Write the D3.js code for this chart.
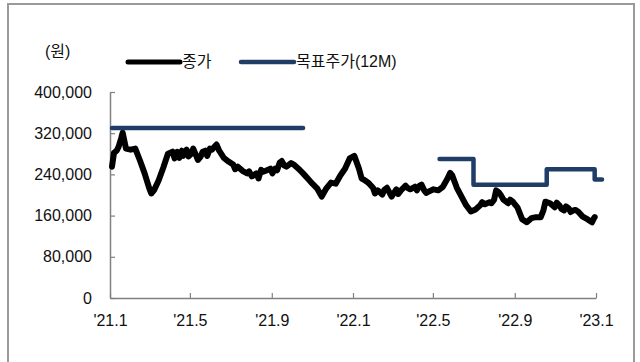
<!DOCTYPE html>
<html>
<head>
<meta charset="utf-8">
<script src="https://cdn.jsdelivr.net/npm/d3@7"></script>
<style>
  body { margin: 0; background: #fff; }
  svg text { font-family: "Liberation Sans", Arial, "Noto Sans CJK KR", sans-serif; fill: #111; }
</style>
</head>
<body>
<svg width="640" height="362"></svg>
<script>
// 종가 (one line per month)
const closeDates = [
  "2021-01-04","2021-01-07","2021-01-11","2021-01-14","2021-01-18","2021-01-20","2021-01-25",
  "2021-02-01","2021-02-08","2021-02-15","2021-02-22",
  "2021-03-01","2021-03-04","2021-03-08","2021-03-15","2021-03-22","2021-03-29",
  "2021-04-05","2021-04-08","2021-04-12","2021-04-15","2021-04-19","2021-04-21","2021-04-26","2021-04-29",
  "2021-05-03","2021-05-06","2021-05-10","2021-05-13","2021-05-17","2021-05-20","2021-05-24","2021-05-27","2021-05-31",
  "2021-06-03","2021-06-07","2021-06-10","2021-06-14","2021-06-21","2021-06-28",
  "2021-07-05","2021-07-08","2021-07-12","2021-07-19","2021-07-26","2021-07-29",
  "2021-08-02","2021-08-09","2021-08-12","2021-08-16","2021-08-19","2021-08-23","2021-08-30",
  "2021-09-02","2021-09-06","2021-09-09","2021-09-13","2021-09-16","2021-09-20","2021-09-23","2021-09-27","2021-09-30",
  "2021-10-04","2021-10-11","2021-10-18","2021-10-25",
  "2021-11-01","2021-11-08","2021-11-15","2021-11-22","2021-11-29",
  "2021-12-06","2021-12-13","2021-12-20","2021-12-27",
  "2022-01-03","2022-01-10","2022-01-14","2022-01-17","2022-01-24","2022-01-31",
  "2022-02-03","2022-02-07","2022-02-14","2022-02-17","2022-02-21","2022-02-28",
  "2022-03-07","2022-03-10","2022-03-14","2022-03-21","2022-03-24","2022-03-28",
  "2022-04-04","2022-04-07","2022-04-11","2022-04-14","2022-04-18","2022-04-21","2022-04-25",
  "2022-05-02","2022-05-09","2022-05-16","2022-05-23","2022-05-27","2022-05-30",
  "2022-06-06","2022-06-13","2022-06-20","2022-06-27",
  "2022-07-04","2022-07-11","2022-07-14","2022-07-18","2022-07-25","2022-07-28",
  "2022-08-01","2022-08-04","2022-08-08","2022-08-11","2022-08-15","2022-08-22","2022-08-25","2022-08-29",
  "2022-09-01","2022-09-05","2022-09-12","2022-09-19","2022-09-26",
  "2022-10-03","2022-10-10","2022-10-14","2022-10-17","2022-10-24","2022-10-31",
  "2022-11-03","2022-11-07","2022-11-10","2022-11-14","2022-11-17","2022-11-21","2022-11-24","2022-11-28",
  "2022-12-01","2022-12-05","2022-12-12","2022-12-19","2022-12-26","2022-12-29","2022-12-30"
];
const closeValues = [
  255000,282000,286000,294000,311000,321000,290000,
  288000,290000,267000,242000,
  213000,203000,209000,228000,253000,280000,
  284000,271000,284000,272000,286000,276000,288000,275000,
  280000,290000,278000,268000,274000,284000,286000,276000,290000,
  288000,294000,298000,286000,272000,265000,
  259000,250000,255000,247000,242000,246000,
  236000,242000,232000,249000,245000,247000,251000,
  242000,251000,248000,263000,266000,257000,255000,259000,262000,
  259000,251000,242000,232000,
  222000,213000,197000,213000,224000,
  222000,238000,251000,271000,
  276000,251000,232000,230000,224000,214000,
  203000,209000,201000,210000,214000,197000,
  211000,202000,209000,218000,214000,211000,
  216000,209000,218000,220000,209000,204000,207000,
  211000,209000,216000,232000,243000,238000,
  214000,197000,180000,168000,
  172000,180000,186000,182000,186000,184000,
  191000,209000,205000,200000,191000,184000,191000,187000,
  182000,176000,153000,147000,155000,
  157000,157000,170000,187000,184000,176000,
  185000,180000,173000,170000,178000,174000,167000,170000,
  171000,168000,158000,153000,147000,155000,157000
];

// 목표주가(12M), null = no target
const targetDates = ["2021-01-04","2021-10-18","2021-10-19","2022-05-11","2022-07-01","2022-10-19","2022-12-30","2023-01-10"];
const targetValues = [330000, 330000, null, 270000, 220000, 250000, 230000, 230000];

const xTicks = ["2021-01-01","2021-05-01","2021-09-01","2022-01-01","2022-05-01","2022-09-01","2023-01-01"];
const yTicks = [0, 80000, 160000, 240000, 320000, 400000];

const parse = d3.timeParse("%Y-%m-%d");
const svg = d3.select("svg");

// frame
svg.append("rect")
  .attr("x", 8).attr("y", 4).attr("width", 626).attr("height", 370)
  .attr("fill", "none").attr("stroke", "#9a9a9a").attr("stroke-width", 2);

const x = d3.scaleTime()
  .domain([parse("2021-01-01"), parse("2023-01-01")])
  .range([110, 596]);
const y = d3.scaleLinear()
  .domain([0, 400000])
  .range([298, 92]);

const yAxis = svg.append("g")
  .attr("transform", "translate(110,0)")
  .call(d3.axisLeft(y).tickValues(yTicks).tickFormat(d3.format(","))
    .tickSizeInner(-5).tickSizeOuter(0).tickPadding(18));
const xAxis = svg.append("g")
  .attr("transform", "translate(0,298)")
  .call(d3.axisBottom(x).tickValues(xTicks.map(parse))
    .tickFormat(d => "'" + d3.timeFormat("%y")(d) + "." + (d.getMonth() + 1))
    .tickSizeInner(-5).tickSizeOuter(0).tickPadding(17));

[yAxis, xAxis].forEach(g => {
  g.select(".domain").attr("stroke", "#808080").attr("stroke-width", 1.5);
  g.selectAll(".tick line").attr("stroke", "#808080").attr("stroke-width", 1.2);
  g.selectAll(".tick text").style("font-size", "16px").attr("fill", "#111");
});

const closeLine = d3.line()
  .x((d, i) => x(parse(closeDates[i])))
  .y(d => y(d));

svg.append("path")
  .datum(closeValues)
  .attr("d", closeLine)
  .attr("fill", "none")
  .attr("stroke", "#000")
  .attr("stroke-width", 6)
  .attr("stroke-linejoin", "round")
  .attr("stroke-linecap", "round");

const targetLine = d3.line()
  .defined(d => d != null)
  .x((d, i) => x(parse(targetDates[i])))
  .y(d => y(d))
  .curve(d3.curveStepAfter);

svg.append("path")
  .datum(targetValues)
  .attr("d", targetLine)
  .attr("fill", "none")
  .attr("stroke", "#1f3d66")
  .attr("stroke-width", 4.5)
  .attr("stroke-linejoin", "round")
  .attr("stroke-linecap", "round");

// unit + legend
svg.append("text").attr("x", 45).attr("y", 51).attr("dy", "0.35em")
  .style("font-size", "16px").text("(원)");

const legend = [
  { name: "종가", color: "#000", w: 5, x1: 128, x2: 180 },
  { name: "목표주가(12M)", color: "#1f3d66", w: 4.5, x1: 241, x2: 294 }
];
legend.forEach(l => {
  svg.append("line").attr("x1", l.x1).attr("x2", l.x2).attr("y1", 62).attr("y2", 62)
    .attr("stroke", l.color).attr("stroke-width", l.w).attr("stroke-linecap", "round");
  svg.append("text").attr("x", l.x2 + 2).attr("y", 61).attr("dy", "0.35em")
    .style("font-size", "16px").text(l.name);
});
</script>
</body>
</html>
